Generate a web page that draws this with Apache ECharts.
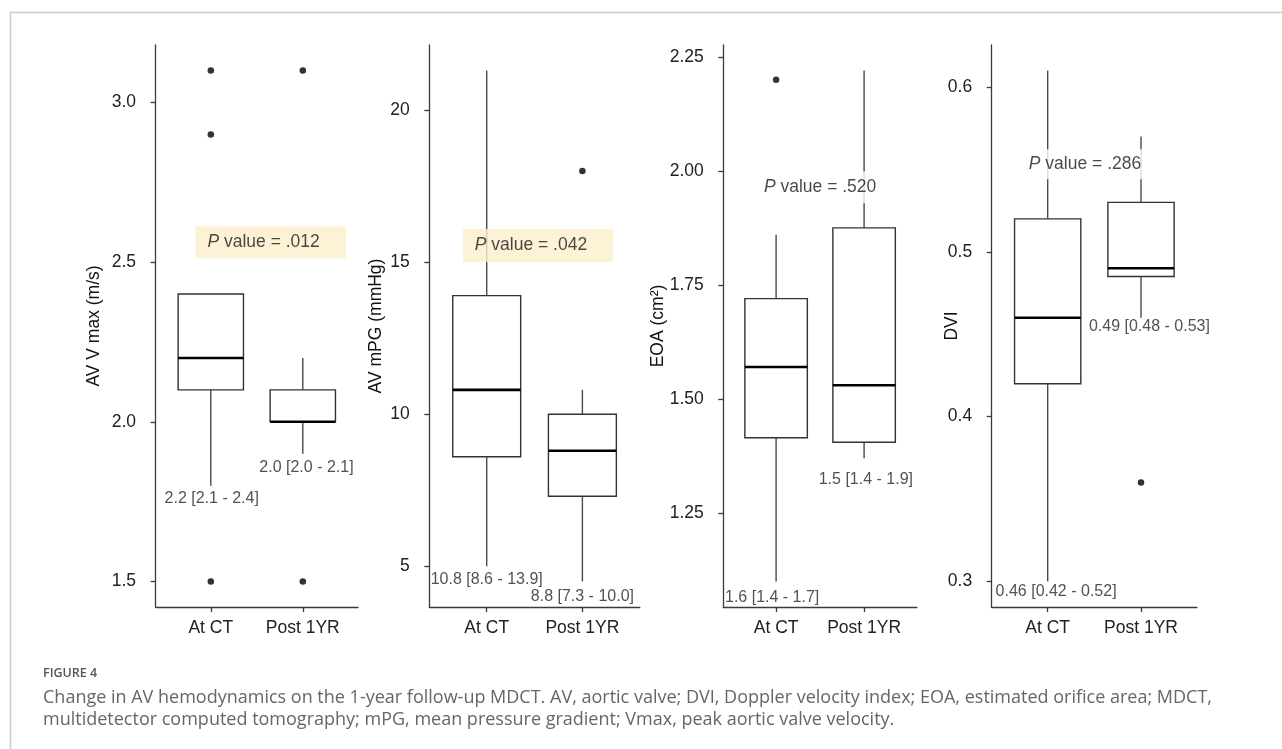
<!DOCTYPE html>
<html>
<head>
<meta charset="utf-8">
<script src="https://cdn.jsdelivr.net/npm/echarts@6/dist/echarts.min.js"></script>
<style>
html,body{margin:0;padding:0;background:#ffffff;}
#chart{width:1282px;height:749px;}
</style>
</head>
<body>
<div id="chart"></div>
<script>
// ---------------- data ----------------
const categories = ['At CT', 'Post 1YR'];

// box statistics per category: [min whisker, Q1, median, Q3, max whisker]
const vmaxBox = [[1.8, 2.1, 2.2, 2.4, 2.4], [1.9, 2.0, 2.0, 2.1, 2.2]];
const vmaxOutliers = [[0, 3.1], [0, 2.9], [0, 1.5], [1, 3.1], [1, 1.5]];
const vmaxTicks = [1.5, 2.0, 2.5, 3.0];
const vmaxSummary = ['2.2 [2.1 - 2.4]', '2.0 [2.0 - 2.1]'];

const mpgBox = [[5.0, 8.6, 10.8, 13.9, 21.3], [4.5, 7.3, 8.8, 10.0, 10.8]];
const mpgOutliers = [[1, 18.0]];
const mpgTicks = [5, 10, 15, 20];
const mpgSummary = ['10.8 [8.6 - 13.9]', '8.8 [7.3 - 10.0]'];

const eoaBox = [[1.10, 1.415, 1.57, 1.72, 1.86], [1.37, 1.405, 1.53, 1.875, 2.22]];
const eoaOutliers = [[0, 2.2]];
const eoaTicks = [1.25, 1.50, 1.75, 2.00, 2.25];
const eoaSummary = ['1.6 [1.4 - 1.7]', '1.5 [1.4 - 1.9]'];

const dviBox = [[0.30, 0.42, 0.46, 0.52, 0.61], [0.46, 0.485, 0.49, 0.53, 0.57]];
const dviOutliers = [[1, 0.36]];
const dviTicks = [0.3, 0.4, 0.5, 0.6];
const dviSummary = ['0.46 [0.42 - 0.52]', '0.49 [0.48 - 0.53]'];

const pValues = ['.012', '.042', '.520', '.286'];
const yTitles = ['AV V max (m/s)', 'AV mPG (mmHg)', 'EOA (cm\u00B2)', 'DVI'];

const captionHead = 'FIGURE 4';
const captionLines = [
  'Change in AV hemodynamics on the 1-year follow-up MDCT. AV, aortic valve; DVI, Doppler velocity index; EOA, estimated orifice area; MDCT,',
  'multidetector computed tomography; mPG, mean pressure gradient; Vmax, peak aortic valve velocity.'
];

// ---------------- layout / style ----------------
const FONT = '"Liberation Sans", Arial, Helvetica, sans-serif';
const panels = [
  {box: vmaxBox, out: vmaxOutliers, ticks: vmaxTicks, dec: 1, summary: vmaxSummary},
  {box: mpgBox, out: mpgOutliers, ticks: mpgTicks, dec: 0, summary: mpgSummary},
  {box: eoaBox, out: eoaOutliers, ticks: eoaTicks, dec: 2, summary: eoaSummary},
  {box: dviBox, out: dviOutliers, ticks: dviTicks, dec: 1, summary: dviSummary}
];
const layout = [
  {left: 155.6, width: 202.4, nameGap: 52, pAt: [1.65, 2.562], pBg: '#fcefca', pPad: [7, 26, 7, 12],
   sumAt: [[1.01, 1.76], [2.04, 1.857]], titleFont: FONT},
  {left: 429.3, width: 210.5, nameGap: 44, pAt: [1.536, 15.55], pBg: '#fcefca', pPad: [7.5, 26, 7.5, 12],
   sumAt: [[1.0, 4.55], [2.0, 3.99]], titleFont: FONT},
  {left: 723.3, width: 193.6, nameGap: 56, pAt: [1.5, 1.964], pBg: '#ffffff', pPad: [7, 3, 7, 3],
   sumAt: [[0.955, 1.065], [2.02, 1.324]], titleFont: FONT},
  {left: 991.7, width: 205.3, nameGap: 31, pAt: [1.40, 0.5532], pBg: '#ffffff', pPad: [6, 3, 6, 3],
   sumAt: [[1.09, 0.294], [2.09, 0.4545]], titleFont: '"Liberation Sans Narrow", ' + FONT}
];
const GRID_TOP = 45, GRID_H = 562;
const BOX_W = 0.71;

function renderBox(params, api) {
  const x = api.value(0);
  const mn = api.value(1), q1 = api.value(2), md = api.value(3), q3 = api.value(4), mx = api.value(5);
  const w = api.size([BOX_W, 0])[0];
  const pMin = api.coord([x, mn]), pQ1 = api.coord([x, q1]), pMd = api.coord([x, md]);
  const pQ3 = api.coord([x, q3]), pMax = api.coord([x, mx]);
  const whisker = {stroke: '#4a4a4a', lineWidth: 1.4};
  return {
    type: 'group',
    children: [
      {type: 'line', shape: {x1: pMax[0], y1: pMax[1], x2: pQ3[0], y2: pQ3[1]}, style: whisker},
      {type: 'line', shape: {x1: pQ1[0], y1: pQ1[1], x2: pMin[0], y2: pMin[1]}, style: whisker},
      {type: 'rect', shape: {x: pQ3[0] - w / 2, y: pQ3[1], width: w, height: pQ1[1] - pQ3[1]},
       style: {fill: '#ffffff', stroke: '#333333', lineWidth: 1.4}},
      {type: 'line', shape: {x1: pMd[0] - w / 2, y1: pMd[1], x2: pMd[0] + w / 2, y2: pMd[1]},
       style: {stroke: '#000000', lineWidth: 2.6}}
    ]
  };
}

const grids = [], xAxes = [], yAxes = [], series = [];
panels.forEach(function (pn, i) {
  const L = layout[i];
  const all = [];
  pn.box.forEach(function (b) { all.push(b[0], b[4]); });
  pn.out.forEach(function (o) { all.push(o[1]); });
  const lo = Math.min.apply(null, all), hi = Math.max.apply(null, all);
  const pad = (hi - lo) * 0.05;

  grids.push({left: L.left, top: GRID_TOP, width: L.width, height: GRID_H, containLabel: false});
  xAxes.push({
    type: 'value', gridIndex: i, min: 0.4, max: 2.6,
    splitLine: {show: false},
    axisLine: {show: true, lineStyle: {color: '#3a3a3a', width: 1.3}},
    axisTick: {show: true, length: 5, customValues: [1, 2], lineStyle: {color: '#3a3a3a', width: 1.3}},
    axisLabel: {show: true, customValues: [1, 2], margin: 12, fontSize: 17.5, color: '#222',
      fontFamily: FONT, formatter: function (v) { return categories[Math.round(v) - 1] || ''; }}
  });
  yAxes.push({
    type: 'value', gridIndex: i, min: lo - pad, max: hi + pad,
    name: yTitles[i], nameLocation: 'middle', nameGap: L.nameGap, nameMoveOverlap: false,
    nameTextStyle: {fontSize: 17.5, color: '#111', fontFamily: L.titleFont},
    splitLine: {show: false},
    axisLine: {show: true, lineStyle: {color: '#3a3a3a', width: 1.3}},
    axisTick: {show: true, length: 5, customValues: pn.ticks, lineStyle: {color: '#3a3a3a', width: 1.3}},
    axisLabel: {show: true, customValues: pn.ticks, margin: 19.5, fontSize: 17.5, color: '#222',
      fontFamily: FONT, formatter: function (v) { return Number(v).toFixed(pn.dec); }}
  });

  series.push({
    type: 'custom', xAxisIndex: i, yAxisIndex: i, z: 2, silent: true,
    encode: {x: 0, y: [1, 2, 3, 4, 5]},
    data: pn.box.map(function (b, k) { return [k + 1].concat(b); }),
    renderItem: renderBox
  });
  series.push({
    type: 'scatter', xAxisIndex: i, yAxisIndex: i, z: 3, silent: true,
    symbolSize: 6.5, itemStyle: {color: '#000'},
    data: pn.out.map(function (o) { return [o[0] + 1, o[1]]; })
  });
  series.push({
    type: 'scatter', xAxisIndex: i, yAxisIndex: i, z: 4, silent: true,
    symbolSize: 1, itemStyle: {color: 'transparent'},
    label: {show: true, position: 'inside', formatter: '{b}', fontSize: 16, color: '#262626', fontFamily: FONT},
    data: L.sumAt.map(function (a, k) { return {name: pn.summary[k], value: a}; })
  });
  series.push({
    type: 'scatter', xAxisIndex: i, yAxisIndex: i, z: 5, silent: true,
    symbolSize: 1, itemStyle: {color: 'transparent'},
    label: {
      show: true, position: 'inside',
      formatter: '{i|P} value = ' + pValues[i],
      fontSize: 17.5, color: '#1a1a1a', fontFamily: FONT,
      backgroundColor: L.pBg, padding: L.pPad,
      rich: {i: {fontStyle: 'italic', fontSize: 17.5, color: '#1a1a1a', fontFamily: FONT}}
    },
    data: [{name: 'p', value: L.pAt}]
  });
});

const chart = echarts.init(document.getElementById('chart'), null, {renderer: 'canvas'});
chart.setOption({
  animation: false,
  backgroundColor: '#ffffff',
  textStyle: {fontFamily: FONT},
  grid: grids, xAxis: xAxes, yAxis: yAxes, series: series,
  graphic: [
    {type: 'line', silent: true, shape: {x1: 10.5, y1: 12, x2: 10.5, y2: 749}, style: {stroke: '#cccccc', lineWidth: 1.5}},
    {type: 'line', silent: true, shape: {x1: 10, y1: 12.5, x2: 1282, y2: 12.5}, style: {stroke: '#cccccc', lineWidth: 1.5}},
    {type: 'text', silent: true, left: 43, top: 667,
     style: {text: captionHead, font: '600 12.5px "Open Sans", sans-serif', fill: '#555555'}},
    {type: 'text', silent: true, left: 43, top: 689,
     style: {text: captionLines[0], font: '18px "Open Sans", sans-serif', fill: '#666666'}},
    {type: 'text', silent: true, left: 43, top: 710.5,
     style: {text: captionLines[1], font: '18px "Open Sans", sans-serif', fill: '#666666'}}
  ]
});
</script>
</body>
</html>
